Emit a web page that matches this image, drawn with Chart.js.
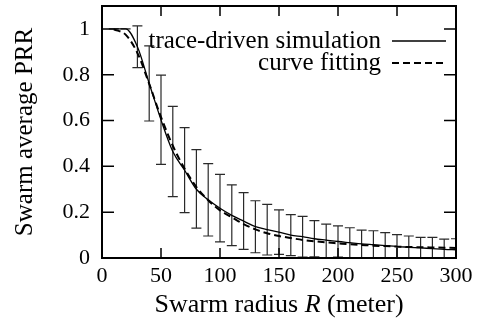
<!DOCTYPE html>
<html>
<head>
<meta charset="utf-8">
<script src="https://cdn.jsdelivr.net/npm/chart.js@4/dist/chart.umd.min.js"></script>
<style>
  html, body { margin: 0; padding: 0; background: #fff; }
  #wrap { width: 481px; height: 320px; }
</style>
</head>
<body>
<div id="wrap"><canvas id="prrChart" width="481" height="320"></canvas></div>
<script>
// radius values (meter)
const radius = [10, 20, 30, 40, 50, 60, 70, 80, 90, 100, 110, 120, 130, 140, 150,
                160, 170, 180, 190, 200, 210, 220, 230, 240, 250, 260, 270, 280, 290, 300];

// trace-driven simulation (mean PRR)
const simPRR = [1.0, 1.0, 0.922, 0.762, 0.603, 0.465, 0.383, 0.30, 0.254, 0.217, 0.186, 0.161, 0.137, 0.124, 0.113,
                0.100, 0.093, 0.084, 0.078, 0.072, 0.067, 0.062, 0.058, 0.054, 0.050, 0.047, 0.044, 0.041, 0.038, 0.036];

// error bar ends of the simulation
const simHigh = [1.0, 1.0, 1.013, 0.926, 0.798, 0.662, 0.569, 0.473, 0.412, 0.365, 0.319, 0.285, 0.250, 0.234, 0.210,
                 0.189, 0.182, 0.163, 0.148, 0.140, 0.132, 0.122, 0.119, 0.111, 0.102, 0.096, 0.090, 0.090, 0.082, 0.084];
const simLow = [1.0, 1.0, 0.831, 0.598, 0.409, 0.268, 0.198, 0.130, 0.096, 0.070, 0.054, 0.038, 0.023, 0.013, 0.016,
                0.010, 0.004, 0.005, 0.002, 0.004, 0, 0, 0, 0, 0, 0, 0, 0, 0, 0];

// curve fitting
const fitPRR = [0.998, 0.975, 0.895, 0.76, 0.615, 0.49, 0.39, 0.31, 0.252, 0.208, 0.178, 0.148, 0.125, 0.108, 0.096,
                0.087, 0.079, 0.073, 0.068, 0.064, 0.060, 0.057, 0.054, 0.052, 0.050, 0.048, 0.047, 0.046, 0.045, 0.044];

const xTicks = [0, 50, 100, 150, 200, 250, 300];
const yTicks = [0, 0.2, 0.4, 0.6, 0.8, 1];

const serif = "'Liberation Serif', 'DejaVu Serif', serif";

// 誤差線
const errorBars = {
    id: 'errorBars',
    beforeDatasetsDraw(chart) {
        const { ctx, chartArea, scales } = chart;
        ctx.save();
        ctx.beginPath();
        ctx.rect(chartArea.left, chartArea.top, chartArea.right - chartArea.left, chartArea.bottom - chartArea.top);
        ctx.clip();
        ctx.strokeStyle = '#2a2a2a';
        ctx.lineWidth = 1.2;
        radius.forEach((r, i) => {
            const x = scales.x.getPixelForValue(r);
            const yh = scales.y.getPixelForValue(simHigh[i]);
            const yl = scales.y.getPixelForValue(simLow[i]);
            ctx.beginPath();
            ctx.moveTo(x, yh); ctx.lineTo(x, yl);
            ctx.moveTo(x - 5, yh); ctx.lineTo(x + 5, yh);
            ctx.moveTo(x - 5, yl); ctx.lineTo(x + 5, yl);
            ctx.stroke();
        });
        ctx.restore();
    }
};

// 邊框、內側刻度、圖例、x 軸標題
const frame = {
    id: 'frame',
    afterDatasetsDraw(chart) {
        const { ctx, chartArea: a, scales } = chart;
        ctx.save();
        ctx.strokeStyle = '#000';
        ctx.lineWidth = 1.5;
        ctx.beginPath();
        xTicks.forEach(v => {
            const x = scales.x.getPixelForValue(v);
            ctx.moveTo(x, a.bottom); ctx.lineTo(x, a.bottom - 10);
            ctx.moveTo(x, a.top); ctx.lineTo(x, a.top + 10);
        });
        yTicks.forEach(v => {
            const y = scales.y.getPixelForValue(v);
            ctx.moveTo(a.left, y); ctx.lineTo(a.left + 12, y);
            ctx.moveTo(a.right, y); ctx.lineTo(a.right - 12, y);
        });
        ctx.stroke();
        ctx.lineWidth = 2;
        ctx.strokeRect(a.left, a.top, a.right - a.left, a.bottom - a.top);

        // legend
        ctx.font = '25px ' + serif;
        ctx.fillStyle = '#000';
        ctx.textAlign = 'right';
        ctx.textBaseline = 'alphabetic';
        chart.data.datasets.forEach((ds, i) => {
            const y = 41 + i * 22;
            ctx.fillText(ds.label, 381, y + 7);
            ctx.beginPath();
            ctx.lineWidth = ds.borderWidth;
            ctx.setLineDash(ds.borderDash || []);
            ctx.moveTo(392, y); ctx.lineTo(446, y);
            ctx.stroke();
        });
        ctx.setLineDash([]);

        // x axis title with italic R
        const parts = [
            { t: 'Swarm radius ', f: '26px ' + serif },
            { t: 'R', f: 'italic 26px ' + serif },
            { t: ' (meter)', f: '26px ' + serif }
        ];
        let total = 0;
        parts.forEach(p => { ctx.font = p.f; p.w = ctx.measureText(p.t).width; total += p.w; });
        let x = (a.left + a.right) / 2 - total / 2;
        ctx.textAlign = 'left';
        parts.forEach(p => { ctx.font = p.f; ctx.fillText(p.t, x, 312); x += p.w; });
        ctx.restore();
    }
};

const ctx = document.getElementById('prrChart').getContext('2d');
new Chart(ctx, {
    type: 'line',
    data: {
        datasets: [{
            label: 'trace-driven simulation',
            data: radius.map((r, i) => ({ x: r, y: simPRR[i] })),
            borderColor: '#000',
            borderWidth: 1.3,
            pointRadius: 0,
            cubicInterpolationMode: 'monotone',
            fill: false
        }, {
            label: 'curve fitting',
            data: radius.map((r, i) => ({ x: r, y: fitPRR[i] })),
            borderColor: '#000',
            borderWidth: 2,
            borderDash: [7, 4],
            pointRadius: 0,
            cubicInterpolationMode: 'monotone',
            fill: false
        }]
    },
    options: {
        responsive: false,
        animation: false,
        layout: { padding: { top: 6, right: 25, left: 0, bottom: 0 } },
        plugins: { legend: { display: false }, tooltip: { enabled: false } },
        scales: {
            x: {
                type: 'linear',
                min: 0,
                max: 300,
                grid: { display: false, drawTicks: false },
                border: { display: false },
                afterBuildTicks: s => { s.ticks = xTicks.map(v => ({ value: v })); },
                afterFit: s => { s.height = 62; s.paddingLeft = 0; s.paddingRight = 0; },
                ticks: {
                    color: '#000',
                    padding: 5,
                    maxRotation: 0,
                    font: { family: serif, size: 22 }
                }
            },
            y: {
                min: 0,
                max: 1.1,
                grid: { display: false, drawTicks: false },
                border: { display: false },
                afterBuildTicks: s => { s.ticks = yTicks.map(v => ({ value: v })); },
                afterFit: s => { s.width = 102; s.paddingTop = 0; s.paddingBottom = 0; },
                title: {
                    display: true,
                    text: 'Swarm average PRR',
                    color: '#000',
                    font: { family: serif, size: 25 },
                    padding: { top: 10, bottom: 0 }
                },
                ticks: {
                    color: '#000',
                    padding: 12,
                    font: { family: serif, size: 22 },
                    callback: v => String(Math.round(v * 10) / 10)
                }
            }
        }
    },
    plugins: [errorBars, frame]
});
</script>
</body>
</html>
